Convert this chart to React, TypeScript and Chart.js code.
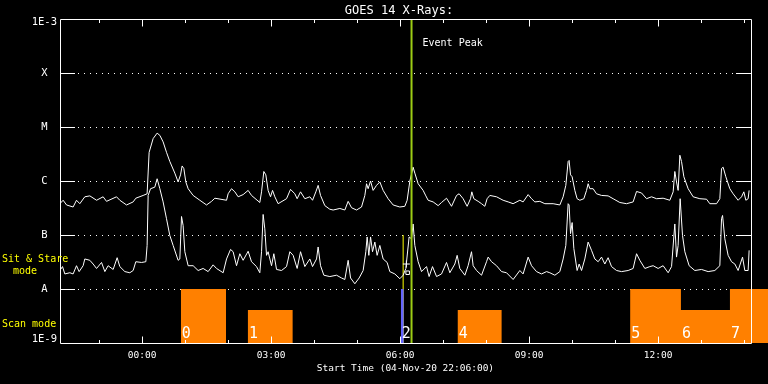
import React, { useEffect, useRef } from 'react';
import { Chart, registerables } from 'chart.js';

Chart.register(...registerables);

const FONT = '"DejaVu Sans Mono", monospace';

// Hours relative to 00:00 on 05-Nov-20 (plot starts 22:06 on 04-Nov-20)
const START_HOUR = -1.91;
const END_HOUR = 14.153;
const VIEW_MAX_HOUR = 14.555;
const TITLE = 'GOES 14 X-Rays:';
const X_TITLE = 'Start Time (04-Nov-20 22:06:00)';
const X_TICK_HOURS = [0, 3, 6, 9, 12];
const X_TICK_LABELS = ['00:00', '03:00', '06:00', '09:00', '12:00'];
const Y_TICK_VALUES = [1e-9, 1e-8, 1e-7, 1e-6, 1e-5, 1e-4, 1e-3];
const Y_TICK_LABELS = ['1E-9', 'A', 'B', 'C', 'M', 'X', '1E-3'];
const CLASS_LEVELS = [1e-8, 1e-7, 1e-6, 1e-5, 1e-4];

// Long channel (1-8 A), W/m^2
const longTimes = [
  -1.914, -1.837, -1.758, -1.605, -1.526, -1.449, -1.333, -1.216, -1.06, -0.907,
  -0.828, -0.595, -0.519, -0.363, -0.209, -0.147, 0.023, 0.116, 0.163, 0.256,
  0.349, 0.412, 0.488, 0.567, 0.644, 0.76, 0.837, 0.893, 0.93, 0.97,
  1.016, 1.07, 1.186, 1.342, 1.498, 1.614, 1.691, 1.963, 2.0, 2.079,
  2.156, 2.233, 2.349, 2.465, 2.544, 2.737, 2.777, 2.83, 2.877, 2.93,
  2.986, 3.033, 3.086, 3.163, 3.358, 3.451, 3.551, 3.605, 3.684, 3.784,
  3.9, 3.963, 4.04, 4.093, 4.149, 4.249, 4.365, 4.442, 4.598, 4.714,
  4.791, 4.87, 4.986, 5.102, 5.179, 5.219, 5.256, 5.312, 5.372, 5.451,
  5.528, 5.605, 5.721, 5.837, 5.993, 6.109, 6.163, 6.226, 6.302, 6.342,
  6.419, 6.535, 6.598, 6.651, 6.767, 6.884, 6.963, 7.079, 7.195, 7.312,
  7.372, 7.465, 7.558, 7.637, 7.667, 7.714, 7.814, 7.893, 7.97, 8.023,
  8.086, 8.242, 8.395, 8.512, 8.628, 8.784, 8.86, 8.977, 9.056, 9.133,
  9.249, 9.365, 9.558, 9.714, 9.791, 9.853, 9.907, 9.93, 9.963, 10.0,
  10.063, 10.116, 10.179, 10.272, 10.335, 10.372, 10.412, 10.488, 10.567, 10.684,
  10.837, 10.953, 11.109, 11.265, 11.419, 11.498, 11.614, 11.73, 11.847, 11.963,
  12.116, 12.272, 12.349, 12.388, 12.428, 12.465, 12.505, 12.544, 12.598, 12.698,
  12.814, 12.97, 13.126, 13.202, 13.358, 13.435, 13.474, 13.512, 13.574, 13.667,
  13.744, 13.86, 13.94, 13.993, 14.04, 14.093, 14.116,
];
const longFlux = [
  3.8e-7, 4.4e-7, 3.6e-7, 3.3e-7, 4.4e-7, 3.8e-7, 5.1e-7, 5.3e-7, 4.4e-7, 5.1e-7,
  4.2e-7, 5.1e-7, 4.4e-7, 3.6e-7, 4.1e-7, 4.8e-7, 5.4e-7, 5.8e-7, 3.4e-6, 6.1e-6,
  7.7e-6, 7.0e-6, 5.3e-6, 3.4e-6, 2.3e-6, 1.4e-6, 9.6e-7, 1.3e-6, 1.9e-6, 1.7e-6,
  9.6e-7, 7.2e-7, 5.4e-7, 4.4e-7, 3.6e-7, 4.2e-7, 4.8e-7, 4.4e-7, 5.8e-7, 7.2e-7,
  6.3e-7, 5.1e-7, 5.6e-7, 6.7e-7, 5.4e-7, 4.0e-7, 6.3e-7, 1.5e-6, 1.3e-6, 6.7e-7,
  5.1e-7, 6.7e-7, 5.1e-7, 3.8e-7, 4.7e-7, 7.0e-7, 5.8e-7, 4.7e-7, 6.3e-7, 4.7e-7,
  5.1e-7, 4.4e-7, 6.3e-7, 8.3e-7, 5.4e-7, 3.5e-7, 3.0e-7, 2.9e-7, 3.1e-7, 2.9e-7,
  4.2e-7, 3.2e-7, 2.9e-7, 3.3e-7, 5.4e-7, 8.9e-7, 7.2e-7, 1.0e-6, 6.7e-7, 8.3e-7,
  9.6e-7, 6.7e-7, 4.7e-7, 3.6e-7, 3.3e-7, 3.4e-7, 4.4e-7, 1.0e-6, 1.8e-6, 1.4e-6,
  8.9e-7, 6.7e-7, 5.3e-7, 4.4e-7, 4.1e-7, 3.5e-7, 4.0e-7, 4.8e-7, 3.4e-7, 5.4e-7,
  5.8e-7, 4.7e-7, 3.4e-7, 4.7e-7, 6.3e-7, 4.7e-7, 4.2e-7, 3.8e-7, 3.4e-7, 4.7e-7,
  5.4e-7, 5.1e-7, 4.4e-7, 4.1e-7, 3.8e-7, 4.4e-7, 4.1e-7, 5.6e-7, 4.7e-7, 4.1e-7,
  4.2e-7, 3.8e-7, 3.8e-7, 3.6e-7, 5.1e-7, 8.3e-7, 2.3e-6, 2.4e-6, 1.3e-6, 1.2e-6,
  6.7e-7, 4.7e-7, 4.4e-7, 4.7e-7, 6.7e-7, 8.9e-7, 7.2e-7, 7.2e-7, 5.8e-7, 5.4e-7,
  5.3e-7, 4.7e-7, 4.0e-7, 3.8e-7, 4.1e-7, 6.4e-7, 6.0e-7, 4.7e-7, 5.1e-7, 4.7e-7,
  4.8e-7, 4.4e-7, 6.3e-7, 1.5e-6, 9.6e-7, 6.7e-7, 3.0e-6, 2.3e-6, 1.2e-6, 7.2e-7,
  5.1e-7, 4.7e-7, 4.6e-7, 3.8e-7, 3.8e-7, 4.7e-7, 1.7e-6, 1.8e-6, 1.2e-6, 7.2e-7,
  5.8e-7, 4.4e-7, 5.1e-7, 6.3e-7, 4.4e-7, 4.7e-7, 6.7e-7,
];

// Short channel (0.5-4 A), W/m^2
const shortTimes = [
  -1.914, -1.851, -1.798, -1.681, -1.605, -1.526, -1.465, -1.372, -1.333, -1.216,
  -1.14, -1.06, -0.944, -0.867, -0.791, -0.674, -0.581, -0.519, -0.402, -0.286,
  -0.209, -0.147, -0.014, 0.086, 0.116, 0.14, 0.195, 0.295, 0.349, 0.412,
  0.488, 0.567, 0.644, 0.721, 0.837, 0.877, 0.916, 0.953, 0.993, 1.07,
  1.186, 1.302, 1.419, 1.535, 1.651, 1.73, 1.884, 1.963, 2.056, 2.116,
  2.195, 2.272, 2.349, 2.465, 2.544, 2.66, 2.737, 2.777, 2.814, 2.853,
  2.893, 2.93, 3.009, 3.063, 3.126, 3.242, 3.358, 3.435, 3.512, 3.605,
  3.684, 3.784, 3.9, 3.963, 4.056, 4.093, 4.149, 4.226, 4.365, 4.521,
  4.637, 4.714, 4.791, 4.847, 4.947, 5.047, 5.14, 5.202, 5.233, 5.272,
  5.312, 5.358, 5.412, 5.465, 5.528, 5.605, 5.698, 5.76, 5.877, 5.993,
  6.07, 6.133, 6.209, 6.265, 6.302, 6.342, 6.419, 6.498, 6.614, 6.674,
  6.753, 6.847, 6.963, 7.079, 7.156, 7.272, 7.326, 7.388, 7.505, 7.581,
  7.66, 7.698, 7.777, 7.893, 8.009, 8.047, 8.126, 8.242, 8.358, 8.474,
  8.628, 8.784, 8.86, 8.977, 9.056, 9.172, 9.288, 9.405, 9.481, 9.598,
  9.714, 9.791, 9.853, 9.907, 9.93, 9.963, 10.0, 10.04, 10.116, 10.163,
  10.219, 10.295, 10.372, 10.451, 10.528, 10.605, 10.684, 10.76, 10.837, 10.916,
  11.033, 11.149, 11.302, 11.419, 11.498, 11.574, 11.691, 11.807, 11.884, 12.0,
  12.116, 12.233, 12.312, 12.388, 12.428, 12.465, 12.512, 12.567, 12.621, 12.721,
  12.853, 13.009, 13.163, 13.319, 13.435, 13.474, 13.498, 13.551, 13.628, 13.707,
  13.784, 13.86, 13.963, 14.016, 14.093, 14.116,
];
const shortFlux = [
  2.2e-8, 2.6e-8, 1.9e-8, 2.0e-8, 1.9e-8, 2.7e-8, 2.1e-8, 2.7e-8, 3.6e-8, 3.4e-8,
  2.9e-8, 2.4e-8, 3.1e-8, 2.1e-8, 2.7e-8, 2.3e-8, 3.8e-8, 2.6e-8, 2.1e-8, 2.0e-8,
  2.2e-8, 3.2e-8, 3.1e-8, 3.2e-8, 6.4e-8, 5.4e-7, 7.2e-7, 7.7e-7, 1.1e-6, 7.2e-7,
  4.1e-7, 2.0e-7, 9.8e-8, 6.4e-8, 3.4e-8, 3.6e-8, 2.2e-7, 1.5e-7, 4.9e-8, 2.7e-8,
  2.7e-8, 2.2e-8, 2.4e-8, 2.1e-8, 2.8e-8, 2.4e-8, 2.0e-8, 3.6e-8, 5.4e-8, 4.9e-8,
  2.7e-8, 4.5e-8, 3.4e-8, 5.0e-8, 3.2e-8, 2.6e-8, 2.0e-8, 4.9e-8, 2.4e-7, 1.3e-7,
  4.2e-8, 4.9e-8, 2.7e-8, 4.5e-8, 2.3e-8, 2.2e-8, 2.6e-8, 4.9e-8, 4.2e-8, 2.4e-8,
  4.9e-8, 2.6e-8, 3.6e-8, 2.6e-8, 3.6e-8, 6.0e-8, 2.7e-8, 1.8e-8, 1.7e-8, 1.8e-8,
  1.6e-8, 1.5e-8, 3.4e-8, 1.6e-8, 1.25e-8, 1.6e-8, 2.2e-8, 4.9e-8, 9.2e-8, 4.2e-8,
  9.2e-8, 4.9e-8, 7.4e-8, 4.2e-8, 6.4e-8, 3.6e-8, 3.1e-8, 2.1e-8, 1.9e-8, 1.55e-8,
  1.8e-8, 2.4e-8, 9.2e-8, 8.5e-8, 1.6e-7, 6.4e-8, 3.2e-8, 2.1e-8, 2.6e-8, 1.7e-8,
  2.6e-8, 1.7e-8, 1.9e-8, 3.1e-8, 2.0e-8, 2.9e-8, 4.2e-8, 2.4e-8, 1.8e-8, 2.7e-8,
  4.9e-8, 2.7e-8, 2.2e-8, 1.8e-8, 3.2e-8, 3.9e-8, 3.2e-8, 2.7e-8, 2.1e-8, 2.0e-8,
  1.5e-8, 2.2e-8, 1.9e-8, 3.9e-8, 2.7e-8, 2.1e-8, 1.9e-8, 2.1e-8, 2.0e-8, 1.8e-8,
  2.1e-8, 3.6e-8, 6.4e-8, 3.8e-7, 3.6e-7, 1.06e-7, 1.7e-7, 5.6e-8, 2.2e-8, 2.9e-8,
  2.2e-8, 3.6e-8, 7.4e-8, 5.2e-8, 3.6e-8, 3.2e-8, 3.9e-8, 2.9e-8, 3.8e-8, 2.6e-8,
  2.2e-8, 2.1e-8, 2.2e-8, 2.4e-8, 4.5e-8, 3.4e-8, 2.4e-8, 2.6e-8, 2.7e-8, 2.4e-8,
  2.7e-8, 2.0e-8, 2.6e-8, 1.6e-7, 3.9e-8, 6.4e-8, 4.7e-7, 9.8e-8, 4.9e-8, 2.7e-8,
  2.2e-8, 2.3e-8, 2.1e-8, 2.2e-8, 2.7e-8, 2.0e-7, 2.3e-7, 8.5e-8, 4.2e-8, 3.2e-8,
  2.9e-8, 2.2e-8, 3.9e-8, 2.2e-8, 2.2e-8, 5.2e-8,
];

// Instrument mode blocks (scan numbers)
const SCAN_IDS = ['0', '1', '2', '4', '5', '6', '7'];
const SCAN_START = [0.9, 2.46, 6.015, 7.34, 11.35, 12.53, 13.67];
const SCAN_END = [1.95, 3.5, 6.085, 8.36, 12.53, 13.67, 14.6];
const SCAN_LEVEL = [1e-8, 4.1e-9, 1e-8, 4.1e-9, 1e-8, 4.1e-9, 1e-8];
const SCAN_IS_STARE = [false, false, true, false, false, false, false];

const EVENT_PEAK_HOUR = 6.265;
const MARKER_HOUR = 6.07;
const MARKER_TOP = 1e-7;
const FLARE_MARK_HOURS = [6.145, 6.175];
const FLARE_MARK_FLUX = [2.9e-8, 2.0e-8];
const Y_MIN = 1e-9;
const Y_MAX = 1e-3;

function blockPoints(stare: boolean) {
  const pts: { x: number; y: number }[] = [];
  SCAN_IDS.forEach((_, i) => {
    if (SCAN_IS_STARE[i] !== stare) return;
    pts.push(
      { x: SCAN_START[i], y: Y_MIN },
      { x: SCAN_START[i], y: SCAN_LEVEL[i] },
      { x: SCAN_END[i], y: SCAN_LEVEL[i] },
      { x: SCAN_END[i], y: Y_MIN },
    );
  });
  return pts;
}

const goesPlugin = {
  id: 'goesDecor',
  beforeDatasetsDraw(chart: any) {
    const { ctx, chartArea, scales } = chart;
    const x = scales.x, y = scales.y;
    const L = chartArea.left;
    const R = Math.round(x.getPixelForValue(END_HOUR));
    ctx.save();
    ctx.strokeStyle = '#ffffff';
    ctx.lineWidth = 1;
    for (const v of CLASS_LEVELS) {
      const py = Math.round(y.getPixelForValue(v)) + 0.5;
      ctx.setLineDash([]);
      ctx.beginPath();
      ctx.moveTo(L, py); ctx.lineTo(L + 15, py);
      ctx.moveTo(R - 15, py); ctx.lineTo(R, py);
      ctx.stroke();
      ctx.setLineDash([1, 5]);
      ctx.beginPath();
      ctx.moveTo(L + 18, py); ctx.lineTo(R - 15, py);
      ctx.stroke();
    }
    ctx.restore();
  },
  afterDatasetsDraw(chart: any) {
    const { ctx, chartArea, scales } = chart;
    const x = scales.x;
    const L = chartArea.left + 0.5;
    const T = chartArea.top + 0.5;
    const B = chartArea.bottom + 0.5;
    const R = Math.round(x.getPixelForValue(END_HOUR)) + 0.5;
    ctx.save();
    ctx.strokeStyle = '#ffffff';
    ctx.lineWidth = 1;
    ctx.setLineDash([]);
    ctx.beginPath();
    ctx.moveTo(L, T); ctx.lineTo(R, T); ctx.lineTo(R, B); ctx.lineTo(L, B); ctx.closePath();
    ctx.stroke();
    ctx.beginPath();
    for (let h = Math.ceil(START_HOUR); h <= Math.floor(END_HOUR); h++) {
      const px = Math.round(x.getPixelForValue(h)) + 0.5;
      const len = h % 3 === 0 ? 7 : 3.5;
      ctx.moveTo(px, B); ctx.lineTo(px, B - len);
      ctx.moveTo(px, T); ctx.lineTo(px, T + len);
    }
    ctx.stroke();

    // side labels
    ctx.font = `10px ${FONT}`;
    ctx.textBaseline = 'middle';
    ctx.textAlign = 'left';
    ctx.fillStyle = '#ffff00';
    ctx.fillText('Sit & Stare', 2, 259);
    ctx.fillText('mode', 13, 271);
    ctx.fillText('Scan mode', 2, 324);

    ctx.fillStyle = '#ffffff';
    const peakX = x.getPixelForValue(EVENT_PEAK_HOUR);
    ctx.fillText('Event Peak', peakX + 11, chartArea.top + 24);

    ctx.font = `15px ${FONT}`;
    ctx.textBaseline = 'alphabetic';
    SCAN_IDS.forEach((id, i) => {
      ctx.fillText(id, x.getPixelForValue(SCAN_START[i]) + 1, chartArea.bottom - 5);
    });
    ctx.restore();
  },
};

export default function App() {
  const ref = useRef<HTMLCanvasElement | null>(null);
  useEffect(() => {
    const canvas = ref.current;
    if (!canvas) return;
    const line = (data: any[], color: string, width: number, order: number) => ({
      data, borderColor: color, borderWidth: width, pointRadius: 0, fill: false, tension: 0, order,
    });
    const lastY = Y_TICK_LABELS.length - 1;
    const chart = new Chart(canvas, {
      type: 'line',
      data: {
        datasets: [
          { label: 'Marker', ...line([{ x: MARKER_HOUR, y: Y_MIN }, { x: MARKER_HOUR, y: MARKER_TOP }], '#ffff00', 1, 7) },
          {
            label: 'Scan mode', data: blockPoints(false), borderColor: 'rgba(0,0,0,0)', borderWidth: 0,
            backgroundColor: '#ff8000', fill: 'start', pointRadius: 0, order: 6,
          },
          {
            label: 'Sit & Stare mode', data: blockPoints(true), borderColor: 'rgba(0,0,0,0)', borderWidth: 0,
            backgroundColor: '#6464ff', fill: 'start', pointRadius: 0, order: 6,
          },
          { label: '1.0-8.0 A', ...line(longTimes.map((t, i) => ({ x: t, y: longFlux[i] })), '#ffffff', 1, 3) },
          { label: '0.5-4.0 A', ...line(shortTimes.map((t, i) => ({ x: t, y: shortFlux[i] })), '#ffffff', 1, 3) },
          {
            label: 'Flare marks', data: FLARE_MARK_HOURS.map((t, i) => ({ x: t, y: FLARE_MARK_FLUX[i] })),
            showLine: false, pointStyle: ['cross', 'rect'], pointRadius: [3.5, 2.5], borderColor: '#ffffff',
            backgroundColor: 'rgba(0,0,0,0)', borderWidth: 1, order: 2,
          },
          { label: 'Event Peak', ...line([{ x: EVENT_PEAK_HOUR, y: Y_MIN }, { x: EVENT_PEAK_HOUR, y: Y_MAX }], '#9ccc14', 2, 1) },
        ] as any,
      },
      options: {
        animation: false,
        responsive: false,
        devicePixelRatio: 1,
        events: [],
        layout: { autoPadding: false, padding: { left: 30, right: 0, top: 0, bottom: 0 } },
        plugins: {
          legend: { display: false },
          tooltip: { enabled: false },
          title: {
            display: true, text: TITLE, color: '#ffffff',
            font: { family: FONT, size: 12, weight: 'normal', lineHeight: 1 },
            padding: { top: 4.5, bottom: 2.5 },
          },
        },
        scales: {
          x: {
            type: 'linear', min: START_HOUR, max: VIEW_MAX_HOUR,
            afterBuildTicks: (s: any) => { s.ticks = X_TICK_HOURS.map((v) => ({ value: v })); },
            afterFit: (s: any) => { s.height = 41; },
            grid: { display: false, drawTicks: false },
            border: { display: false },
            ticks: {
              color: '#ffffff', font: { family: FONT, size: 9.5 }, padding: 7, maxRotation: 0, autoSkip: false,
              callback: (_v: any, i: number) => X_TICK_LABELS[i],
            },
            title: {
              display: true, text: X_TITLE + '   ', color: '#ffffff',
              font: { family: FONT, size: 9.5, lineHeight: 1.2 }, padding: { top: 0, bottom: 10 },
            },
          },
          y: {
            type: 'logarithmic', min: Y_MIN, max: Y_MAX,
            afterBuildTicks: (s: any) => { s.ticks = Y_TICK_VALUES.map((v) => ({ value: v })); },
            afterFit: (s: any) => { s.width = 30; },
            grid: { display: false, drawTicks: false },
            border: { display: false },
            ticks: {
              color: '#ffffff', font: { family: FONT, size: 10.5, lineHeight: 0.7 }, padding: 3,
              crossAlign: 'center', autoSkip: false,
              callback: (_v: any, i: number) =>
                i === 0 ? [Y_TICK_LABELS[i], ''] : i === lastY ? ['', Y_TICK_LABELS[i]] : Y_TICK_LABELS[i],
            },
          },
        },
      } as any,
      plugins: [goesPlugin],
    });
    return () => chart.destroy();
  }, []);
  return (
    <>
      <style>{'body{margin:0;background:#000;}'}</style>
      <canvas ref={ref} width={768} height={384} style={{ display: 'block', background: '#000' }} />
    </>
  );
}
